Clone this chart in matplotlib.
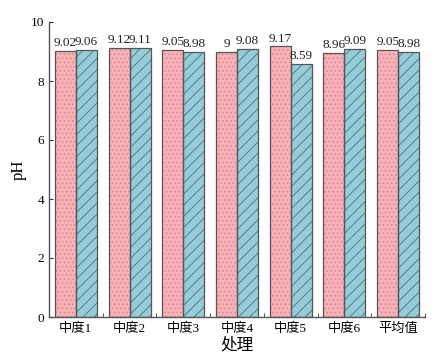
import matplotlib
matplotlib.use("Agg")
import matplotlib.pyplot as plt
import numpy as np

categories = ["中度1", "中度2", "中度3", "中度4", "中度5", "中度6", "平均值"]
series_a = [9.02, 9.12, 9.05, 9.00, 9.17, 8.96, 9.05]
series_b = [9.06, 9.11, 8.98, 9.08, 8.59, 9.09, 8.98]

plt.rcParams['font.family'] = ['Liberation Serif', 'Noto Sans CJK SC']
plt.rcParams['hatch.linewidth'] = 0.6

fig = plt.figure(figsize=(4.43, 3.64), dpi=100)
ax = fig.add_axes([49/443, 1-317/364, (425-49)/443, (317-22)/364])

x = np.arange(len(categories))
w = 0.39
pink = "#F9B0B6"
blue = "#95CCD9"
edge = "#555555"

# fills with hatches
ax.bar(x - w/2, series_a, w, color=pink, edgecolor="#C98C92", hatch="....", linewidth=0, zorder=2)
ax.bar(x + w/2, series_b, w, color=blue, edgecolor="#4F6F78", hatch="///", linewidth=0, zorder=2)
# outlines
ax.bar(x - w/2, series_a, w, fill=False, edgecolor=edge, linewidth=0.9, zorder=3)
ax.bar(x + w/2, series_b, w, fill=False, edgecolor=edge, linewidth=0.9, zorder=3)

for xi, v in zip(x - w/2, series_a):
    ax.text(xi, v + 0.06, f"{v:g}", ha="center", va="bottom", fontsize=9.5, color="#222222")
for xi, v in zip(x + w/2, series_b):
    ax.text(xi, v + 0.06, f"{v:g}", ha="center", va="bottom", fontsize=9.5, color="#222222")

ax.set_xlim(-0.5, len(categories) - 0.5)
ax.set_ylim(0, 10)
ax.set_yticks([0, 2, 4, 6, 8, 10])
ax.set_xticks(x)
ax.set_xticklabels(categories, fontsize=9.5)
ax.set_xticks(np.arange(len(categories)) + 0.5, minor=True)
ax.tick_params(axis='x', which='major', length=0, pad=4)
ax.tick_params(axis='x', which='minor', length=3, direction='in', color="#333333")
ax.tick_params(axis='y', which='major', length=3, direction='in', labelsize=9.5, color="#333333")

for s in ['top', 'right']:
    ax.spines[s].set_visible(False)
for s in ['left', 'bottom']:
    ax.spines[s].set_color("#555555")
    ax.spines[s].set_linewidth(1.0)

ax.set_xlabel("处理", fontsize=12, labelpad=2)
ax.set_ylabel("pH", fontsize=12)
ax.yaxis.set_label_coords(-0.06, 0.5)

fig.savefig("out.png", dpi=100)
